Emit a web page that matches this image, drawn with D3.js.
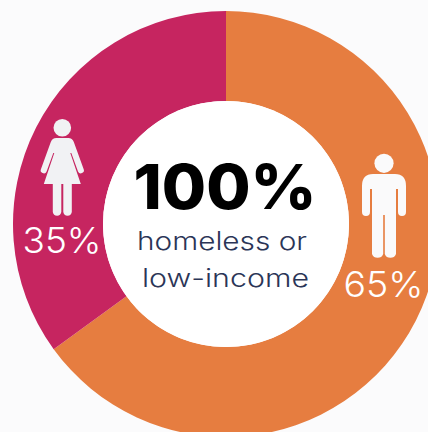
<!DOCTYPE html>
<html><head><meta charset="utf-8">
<script src="https://cdn.jsdelivr.net/npm/d3@7/dist/d3.min.js"></script>
<style>html,body{margin:0;padding:0;background:#fbfbfc;overflow:hidden}svg{display:block}</style>
</head><body><svg id="c" width="428" height="432"></svg>
<script>
const categories = ["Male", "Female"];
const shares = [65, 35];
const colors = ["#E67D40", "#C62560"];
const labels = ["65%", "35%"];
const centerBig = "100%";
const centerLines = ["homeless or", "low-income"];

const svg = d3.select("#c");
const g = svg.append("g").attr("transform", "translate(226,224)");
const pie = d3.pie().sort(null)(shares);
const arc = d3.arc().innerRadius(123).outerRadius(213);
g.selectAll("path.slice").data(pie).join("path").attr("class","slice")
  .attr("d", arc).attr("fill", (d,i)=>colors[i]);
g.append("circle").attr("r",123).attr("fill","#fff");

const man = "M-22,7 Q-22,-5 -11,-5 L11,-5 Q22,-5 22,7 L22,33 A4,4 0 0 1 14,33 L14,10 L12,10 L12,75 A6,6 0 0 1 0.8,75 L0.8,36 L-0.8,36 L-0.8,75 A6,6 0 0 1 -12,75 L-12,10 L-14,10 L-14,33 A4,4 0 0 1 -22,33 Z";
const manG = svg.append("g").attr("transform","translate(384,179)").attr("fill","#FAFAFB");
manG.append("circle").attr("cy",-15.7).attr("r",9.6);
manG.append("path").attr("d",man);

const woman = "M-11.5,-1 Q-10,-5 -6,-5 L6,-5 Q10,-5 11.5,-1 L21.3,26 A3,3 0 0 1 15.7,28.5 L9,10 L8,10 L18.5,41 L9.5,41 L9.5,69 A4.3,4.3 0 0 1 1,69 L1,41 L-1,41 L-1,69 A4.3,4.3 0 0 1 -9.5,69 L-9.5,41 L-18.5,41 L-8,10 L-9,10 L-15.7,28.5 A3,3 0 0 1 -21.3,26 Z";
const womanG = svg.append("g").attr("transform","translate(62.3,143)").attr("fill","#F1F2F4");
womanG.append("circle").attr("cy",-15.3).attr("r",8.8);
womanG.append("path").attr("d",woman);

const thin = "Inter, sans-serif";
svg.append("text").attr("x",383.5).attr("y",297).attr("text-anchor","middle")
  .attr("font-family",thin).attr("font-size",36).attr("font-weight",300).attr("fill","#fff")
  .attr("textLength",80).attr("lengthAdjust","spacingAndGlyphs").text(labels[0]);
svg.append("text").attr("x",62).attr("y",253).attr("text-anchor","middle")
  .attr("font-family",thin).attr("font-size",36).attr("font-weight",300).attr("fill","#fff")
  .attr("textLength",79).attr("lengthAdjust","spacingAndGlyphs").text(labels[1]);

svg.append("text").attr("x",225).attr("y",209).attr("text-anchor","middle")
  .attr("font-family",thin).attr("font-size",62).attr("font-weight",800).attr("fill","#000")
  .attr("textLength",183).attr("lengthAdjust","spacingAndGlyphs").text(centerBig);
svg.append("text").attr("x",222).attr("y",250).attr("text-anchor","middle")
  .attr("font-family",thin).attr("font-size",25).attr("font-weight",300).attr("fill","#2B3557")
  .attr("textLength",170).attr("lengthAdjust","spacingAndGlyphs").text(centerLines[0]);
svg.append("text").attr("x",225.5).attr("y",287).attr("text-anchor","middle")
  .attr("font-family",thin).attr("font-size",25).attr("font-weight",300).attr("fill","#2B3557")
  .attr("textLength",167).attr("lengthAdjust","spacingAndGlyphs").text(centerLines[1]);
</script></body></html>
